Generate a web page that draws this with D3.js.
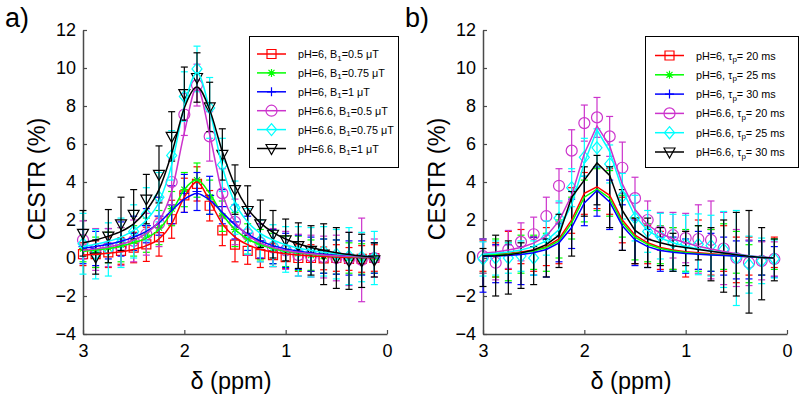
<!DOCTYPE html>
<html><head><meta charset="utf-8">
<script src="https://cdn.jsdelivr.net/npm/d3@7"></script>
<style>body{margin:0;background:#fff}svg{display:block}</style>
</head><body><svg id="c" width="800" height="402"></svg>
<script>
// ---------- data ----------
const ppm = [3.0,2.875,2.75,2.625,2.5,2.375,2.25,2.125,2.0,1.875,1.75,1.625,1.5,1.375,1.25,1.125,1.0,0.875,0.75,0.625,0.5,0.375,0.25,0.125];
const yTicks = [-4,-2,0,2,4,6,8,10,12];
const xTicks = [3,2,1,0];

// panel a) measured points
const aRed   = [0.2,0.2,0.3,0.37,0.55,0.72,1.1,2.04,3.3,3.9,2.75,1.45,0.7,0.37,0.2,0.15,0.05,0.0,0.0,-0.02,0.0,-0.05,-0.05,0.0];
const aGreen = [0.5,0.3,0.55,0.7,0.9,1.2,1.6,2.6,3.6,4.1,3.2,2.2,1.5,1.0,0.7,0.5,0.35,0.25,0.15,0.1,0.05,0.0,-0.05,0.0];
const aBlue  = [0.6,0.5,0.75,1.0,1.3,1.7,2.2,2.8,3.4,3.5,3.3,2.7,1.9,1.3,0.9,0.6,0.4,0.3,0.2,0.1,0.05,0.0,0.0,0.0];
const aMag   = [0.95,0.45,0.55,0.6,0.9,1.25,1.8,4.0,7.55,9.1,6.4,3.4,1.9,1.25,0.8,0.55,0.4,0.15,0.1,0.05,0.0,-0.05,-0.1,0.0];
const aCyan  = [0.75,0.2,0.45,0.8,1.4,2.3,3.2,5.4,8.5,9.95,7.9,4.9,2.65,1.4,0.9,0.65,0.45,0.35,0.3,0.35,0.2,0.1,0.05,0.0];
const aBlack = [1.3,0.05,1.15,1.8,2.3,3.1,4.4,6.4,8.65,9.5,7.95,5.45,3.6,2.5,1.8,1.25,0.95,0.65,0.4,0.2,0.0,-0.15,-0.15,-0.1];
// panel a) error bar half-lengths
const aRedErr   = [0.6,0.7,0.8,0.7,0.8,0.9,1.0,1.0,0.9,0.9,0.8,0.8,0.9,0.7,0.7,0.6,0.6,0.7,0.7,0.6,0.7,0.6,0.7,0.7];
const aGreenErr = [0.7,0.8,0.8,0.9,0.8,0.9,0.9,0.9,0.9,0.9,0.9,0.8,0.9,0.8,0.8,0.8,0.8,0.9,0.8,0.9,0.9,0.8,0.8,0.8];
const aBlueErr  = [0.9,0.9,0.8,0.9,0.9,0.9,1.0,1.0,1.0,1.0,1.0,0.9,0.9,0.9,0.9,0.9,0.9,0.9,0.9,0.9,0.9,0.9,0.9,0.8];
const aMagErr   = [1.0,1.1,1.0,1.0,1.1,1.1,1.2,1.2,1.1,1.1,1.3,1.3,1.2,1.1,1.0,1.0,1.0,1.1,1.1,1.1,1.2,1.4,2.2,1.0];
const aCyanErr  = [1.6,1.3,1.4,1.3,1.4,1.4,1.3,1.3,1.3,1.2,1.6,1.4,1.4,1.2,1.1,1.1,1.2,1.3,1.3,1.3,1.3,1.5,1.3,1.4];
const aBlackErr = [1.2,0.9,1.4,1.4,1.3,1.3,1.5,1.3,1.4,1.3,1.3,1.35,1.3,1.3,1.25,1.25,1.1,1.2,1.3,1.6,1.6,1.5,1.4,0.9];
// panel a) fitted curves
const aRedFit   = [0.15,0.2,0.25,0.33,0.45,0.65,1.0,1.8,3.2,4.0,3.0,1.8,1.1,0.7,0.45,0.32,0.22,0.16,0.11,0.08,0.05,0.03,0.02,0.01];
const aGreenFit = [0.35,0.42,0.5,0.62,0.8,1.05,1.5,2.4,3.6,4.1,3.4,2.3,1.5,1.0,0.7,0.5,0.36,0.27,0.2,0.15,0.11,0.08,0.06,0.05];
const aBlueFit  = [0.5,0.6,0.72,0.88,1.1,1.4,1.85,2.5,3.1,3.4,3.05,2.4,1.75,1.25,0.9,0.65,0.48,0.36,0.27,0.2,0.15,0.11,0.08,0.06];
const aMagFit   = [0.4,0.48,0.58,0.72,0.95,1.3,1.95,3.5,6.6,9.0,6.5,3.4,1.9,1.2,0.8,0.55,0.4,0.3,0.22,0.16,0.12,0.09,0.06,0.05];
const aCyanFit  = [0.6,0.72,0.88,1.1,1.45,2.0,2.95,4.9,8.0,9.75,7.8,4.8,2.9,1.9,1.3,0.95,0.7,0.52,0.4,0.3,0.22,0.16,0.11,0.08];
const aBlackFit = [0.8,0.95,1.15,1.4,1.8,2.5,3.6,5.5,7.9,9.0,7.8,5.6,3.8,2.6,1.85,1.35,1.0,0.75,0.55,0.4,0.28,0.18,0.1,0.05];

// panel b) measured points
const bRed   = [0.1,-0.1,0.4,0.6,0.2,0.6,0.8,2.5,3.4,3.7,3.5,2.0,0.9,0.7,0.4,0.5,0.2,0.7,0.3,0.5,-0.1,0.1,0.0,0.3];
const bGreen = [0.1,0.0,-0.2,0.2,0.3,0.3,1.0,2.1,3.0,3.6,3.4,2.2,1.0,0.8,0.7,0.5,0.4,0.5,0.4,0.6,0.3,-0.3,0.0,0.2];
const bBlue  = [-0.4,-0.3,-0.3,-0.4,0.1,0.0,0.8,1.8,3.0,3.5,2.8,1.6,0.8,0.5,0.2,0.2,0.1,0.4,0.3,0.1,-0.1,-0.1,0.0,-0.2];
const bMag   = [0.1,-0.25,0.45,0.85,1.25,2.2,3.8,5.65,7.1,7.4,6.4,4.75,3.15,2.0,1.4,1.2,1.05,1.0,0.95,0.5,0.0,-0.25,-0.15,-0.05];
const bCyan  = [-0.05,0.0,0.0,0.1,0.0,1.05,2.1,3.7,5.3,5.8,4.95,3.25,2.1,1.4,1.15,0.8,0.75,0.72,0.65,0.45,0.0,-0.35,-0.15,-0.05];
const bBlack = [-0.5,-0.4,-0.5,-0.4,-0.4,0.0,0.9,1.8,3.5,4.1,3.2,2.0,0.9,0.8,0.6,0.3,0.5,0.8,0.2,0.1,0.2,-0.2,-0.3,-0.1];
// panel b) error bar half-lengths
const bRedErr   = [0.8,0.9,1.0,0.9,0.9,1.0,1.1,1.2,1.1,1.1,1.2,1.2,1.2,1.0,1.0,1.1,1.2,1.3,1.2,1.2,1.2,1.0,0.9,0.8];
const bGreenErr = [0.9,1.0,1.0,1.0,0.9,1.0,1.0,1.1,1.1,1.1,1.2,1.1,1.1,1.0,1.0,1.1,1.1,1.2,1.1,1.2,1.1,1.0,0.9,0.8];
const bBlueErr  = [1.4,1.0,1.0,1.0,1.0,1.0,1.0,1.3,1.3,1.3,1.3,1.2,1.2,1.0,0.9,0.9,0.9,1.0,1.0,1.0,1.0,1.0,0.9,0.8];
const bMagErr   = [0.9,0.9,1.0,1.0,0.9,1.0,0.9,1.1,0.95,1.05,1.05,1.35,1.1,1.0,1.0,1.2,1.3,1.8,2.05,1.9,1.5,1.2,1.0,0.9];
const bCyanErr  = [0.9,0.9,0.8,0.8,0.9,0.9,0.9,1.0,1.0,1.0,1.0,1.2,1.2,1.1,1.2,1.5,1.5,1.6,1.6,2.0,2.5,1.5,1.2,1.0];
const bBlackErr = [1.0,1.6,1.4,1.2,1.0,1.0,1.4,1.7,1.3,1.3,1.6,1.6,1.2,1.3,1.0,1.0,0.9,0.9,1.4,1.9,2.2,2.7,1.9,1.1];
// panel b) fitted curves
const bRedFit   = [0.2,0.22,0.25,0.32,0.42,0.6,1.0,2.0,3.4,3.75,3.3,2.0,1.2,0.8,0.55,0.42,0.33,0.27,0.22,0.17,0.12,0.07,0.03,0.0];
const bGreenFit = [0.15,0.18,0.21,0.27,0.37,0.55,0.9,1.85,3.2,3.62,3.15,1.85,1.1,0.72,0.5,0.37,0.29,0.23,0.19,0.15,0.1,0.06,0.03,0.0];
const bBlueFit  = [0.08,0.1,0.13,0.18,0.28,0.45,0.8,1.6,2.9,3.55,2.95,1.7,0.95,0.6,0.4,0.3,0.24,0.2,0.16,0.13,0.1,0.06,0.03,0.0];
const bMagFit   = [0.25,0.32,0.42,0.55,0.78,1.15,1.95,3.3,5.5,6.95,5.9,3.9,2.55,1.75,1.3,1.0,0.8,0.62,0.47,0.34,0.22,0.12,0.05,0.0];
const bCyanFit  = [0.2,0.25,0.32,0.42,0.6,0.9,1.5,2.8,5.0,6.75,5.6,3.6,2.2,1.45,1.05,0.8,0.62,0.48,0.37,0.27,0.18,0.1,0.04,0.0];
const bBlackFit = [0.1,0.12,0.17,0.27,0.42,0.7,1.2,3.2,4.1,5.0,4.35,2.5,1.45,1.0,0.8,0.65,0.55,0.45,0.35,0.26,0.17,0.09,0.03,0.0];

const labelsA = [["pH=6, B","1","=0.5 \u03bcT"],["pH=6, B","1","=0.75 \u03bcT"],["pH=6, B","1","=1 \u03bcT"],
                 ["pH=6.6, B","1","=0.5 \u03bcT"],["pH=6.6, B","1","=0.75 \u03bcT"],["pH=6.6, B","1","=1 \u03bcT"]];
const labelsB = [["pH=6, \u03c4","p","= 20 ms"],["pH=6, \u03c4","p","= 25 ms"],["pH=6, \u03c4","p","= 30 ms"],
                 ["pH=6.6, \u03c4","p","= 20 ms"],["pH=6.6, \u03c4","p","= 25 ms"],["pH=6.6, \u03c4","p","= 30 ms"]];
const colors  = ["#ff0000","#00ff00","#0000ff","#cc33cc","#00ffff","#000000"];
const markers = ["square","asterisk","plus","circle","diamond","triangle"];

// ---------- drawing ----------
const svg = d3.select("#c");
const FONT = "'Liberation Sans', Arial, sans-serif";

function markerPath(t){
  switch(t){
    case "square": return "M-4.5,-4.5H4.5V4.5H-4.5Z";
    case "asterisk": return "M-4,0H4M0,-4V4M-3,-3L3,3M-3,3L3,-3";
    case "plus": return "M-4.5,0H4.5M0,-4.5V4.5";
    case "circle": return "M5.5,0A5.5,5.5 0 1,1 -5.5,0A5.5,5.5 0 1,1 5.5,0Z";
    case "diamond": return "M0,-6L5,0L0,6L-5,0Z";
    case "triangle": return "M-5.5,-4L5.5,-4L0,6Z";
  }
}

function panel(x0, tag, series, labels, legend, smooth){
  const x = d3.scaleLinear().domain([3,0]).range([x0, x0+304]);
  const y = d3.scaleLinear().domain([-4,12]).range([334,30]);
  const g = svg.append("g");

  // axes
  const ya = g.append("g").attr("transform",`translate(${x0},0)`)
    .call(d3.axisLeft(y).tickValues(yTicks).tickSize(-4).tickSizeOuter(0).tickPadding(7).tickFormat(d=>d<0?"\u2212"+(-d):d));
  const xa = g.append("g").attr("transform","translate(0,334)")
    .call(d3.axisBottom(x).tickValues(xTicks).tickSize(-4).tickSizeOuter(0).tickPadding(10).tickFormat(d3.format("d")));
  [ya,xa].forEach(a=>{
    a.select(".domain").attr("stroke","#4a4a4a").attr("stroke-width",1.5);
    a.selectAll(".tick line").attr("stroke","#4a4a4a").attr("stroke-width",1.2);
    a.selectAll("text").attr("font-family",FONT).attr("font-size",18).attr("fill","#000");
  });

  // error bars + markers
  series.forEach(s=>{
    const eg = g.append("g").attr("stroke",s.color).attr("stroke-width",1.2).attr("fill","none");
    ppm.forEach((p,i)=>{
      const cx = x(p), lo = y(s.data[i]-s.err[i]), hi = y(s.data[i]+s.err[i]);
      eg.append("line").attr("x1",cx).attr("x2",cx).attr("y1",lo).attr("y2",hi);
      eg.append("line").attr("x1",cx-3.5).attr("x2",cx+3.5).attr("y1",lo).attr("y2",lo);
      eg.append("line").attr("x1",cx-3.5).attr("x2",cx+3.5).attr("y1",hi).attr("y2",hi);
    });
    if(s.showMarker){
      eg.selectAll("path.m").data(ppm).join("path").attr("class","m")
        .attr("d",markerPath(s.marker))
        .attr("transform",(p,i)=>`translate(${x(p)},${y(s.data[i])})`);
    }
  });

  // fit lines
  const line = d3.line().x((d,i)=>x(ppm[i])).y(d=>y(d)).curve(smooth?d3.curveMonotoneX:d3.curveLinear);
  series.forEach(s=>{
    g.append("path").attr("d",line(s.fit)).attr("fill","none").attr("stroke",s.color).attr("stroke-width",1.5);
  });

  // panel tag
  g.append("text").attr("x",x0-78).attr("y",27).attr("font-family",FONT).attr("font-size",27).text(tag);
  // y label
  g.append("text").attr("transform",`translate(${x0-38},179) rotate(-90)`)
    .attr("text-anchor","middle").attr("font-family",FONT).attr("font-size",23.5).text("CESTR (%)");
  // x label
  g.append("text").attr("x",x0+148).attr("y",389).attr("text-anchor","middle")
    .attr("font-family",FONT).attr("font-size",23.5).text("\u03b4 (ppm)");

  // legend
  const L = legend;
  const lg = g.append("g");
  lg.append("rect").attr("x",L.x).attr("y",L.y).attr("width",L.w).attr("height",L.h)
    .attr("fill","#fff").attr("stroke","#000").attr("stroke-width",1);
  series.forEach((s,i)=>{
    const ry = L.row0 + i*L.step;
    lg.append("line").attr("x1",L.lx0).attr("x2",L.lx1).attr("y1",ry).attr("y2",ry)
      .attr("stroke",s.color).attr("stroke-width",1.5);
    lg.append("path").attr("d",markerPath(s.marker)).attr("transform",`translate(${(L.lx0+L.lx1)/2},${ry})`)
      .attr("fill","none").attr("stroke",s.color).attr("stroke-width",1.2);
    const t = lg.append("text").attr("x",L.tx).attr("y",ry+4).attr("font-family",FONT).attr("font-size",10.8);
    t.append("tspan").text(labels[i][0]);
    t.append("tspan").attr("font-size",8).attr("dy",2.5).text(labels[i][1]);
    t.append("tspan").attr("dy",-2.5).text(labels[i][2]);
  });
}

const seriesA = [
  {color:colors[0],marker:markers[0],data:aRed,  err:aRedErr,  fit:aRedFit,  showMarker:true},
  {color:colors[1],marker:markers[1],data:aGreen,err:aGreenErr,fit:aGreenFit,showMarker:true},
  {color:colors[2],marker:markers[2],data:aBlue, err:aBlueErr, fit:aBlueFit, showMarker:true},
  {color:colors[3],marker:markers[3],data:aMag,  err:aMagErr,  fit:aMagFit,  showMarker:true},
  {color:colors[4],marker:markers[4],data:aCyan, err:aCyanErr, fit:aCyanFit, showMarker:true},
  {color:colors[5],marker:markers[5],data:aBlack,err:aBlackErr,fit:aBlackFit,showMarker:true}
];
const seriesB = [
  {color:colors[0],marker:markers[0],data:bRed,  err:bRedErr,  fit:bRedFit,  showMarker:false},
  {color:colors[1],marker:markers[1],data:bGreen,err:bGreenErr,fit:bGreenFit,showMarker:false},
  {color:colors[2],marker:markers[2],data:bBlue, err:bBlueErr, fit:bBlueFit, showMarker:false},
  {color:colors[3],marker:markers[3],data:bMag,  err:bMagErr,  fit:bMagFit,  showMarker:true},
  {color:colors[4],marker:markers[4],data:bCyan, err:bCyanErr, fit:bCyanFit, showMarker:true},
  {color:colors[5],marker:markers[5],data:bBlack,err:bBlackErr,fit:bBlackFit,showMarker:false}
];

panel(83, "a)", seriesA, labelsA,
  {x:249.5,y:36.5,w:149,h:131,row0:54,step:18.9,lx0:257,lx1:286,tx:298}, true);
panel(483, "b)", seriesB, labelsB,
  {x:645.5,y:36.5,w:153,h:131,row0:55.5,step:19.3,lx0:655,lx1:684,tx:696}, false);
</script></body></html>
